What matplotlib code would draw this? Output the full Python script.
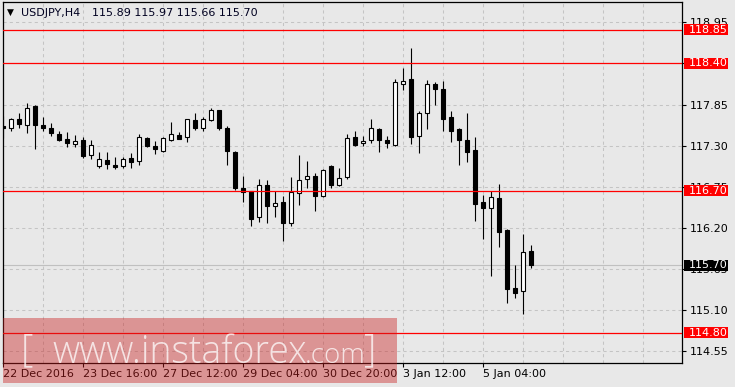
import matplotlib
matplotlib.use("Agg")
import matplotlib.pyplot as plt
from matplotlib.patches import Rectangle
from matplotlib.transforms import blended_transform_factory
import numpy as np

plt.rcParams['font.family'] = ['DejaVu Sans']

symbol = "USDJPY,H4"
opens = [117.56, 117.53, 117.65, 117.58, 117.83, 117.58, 117.53, 117.46, 117.39, 117.32,
         117.38, 117.17, 117.03, 117.11, 117.04, 117.03, 117.14, 117.09, 117.40, 117.30,
         117.23, 117.38, 117.44, 117.41, 117.64, 117.53, 117.64, 117.77, 117.53, 117.22,
         116.73, 116.70, 116.34, 116.78, 116.49, 116.54, 116.26, 116.66, 116.85, 116.89,
         116.62, 117.03, 116.78, 116.88, 117.42, 117.33, 117.37, 117.52, 117.38, 117.31,
         118.13, 118.19, 117.43, 117.73, 118.12, 118.06, 117.68, 117.52, 117.38, 117.24,
         116.55, 116.47, 116.60, 116.17, 115.40, 115.35, 115.89]
highs = [117.70, 117.67, 117.74, 117.87, 117.84, 117.68, 117.60, 117.49, 117.48, 117.44,
         117.41, 117.37, 117.22, 117.22, 117.15, 117.15, 117.20, 117.46, 117.42, 117.36,
         117.42, 117.62, 117.48, 117.66, 117.74, 117.68, 117.80, 117.78, 117.56, 117.23,
         116.89, 116.70, 116.86, 116.84, 116.70, 116.62, 116.88, 117.18, 117.09, 116.94,
         116.99, 117.04, 117.00, 117.46, 117.50, 117.43, 117.66, 117.53, 117.43, 118.19,
         118.34, 118.61, 117.76, 118.18, 118.15, 118.16, 117.76, 117.54, 117.74, 117.42,
         116.64, 116.69, 116.79, 116.18, 115.70, 116.12, 115.97]
lows = [117.40, 117.49, 117.53, 117.47, 117.25, 117.50, 117.43, 117.36, 117.28, 117.28,
        117.13, 117.12, 117.00, 116.99, 116.99, 117.00, 117.00, 117.04, 117.28, 117.19,
        117.21, 117.36, 117.39, 117.35, 117.51, 117.49, 117.63, 117.51, 117.04, 116.71,
        116.54, 116.22, 116.28, 116.26, 116.34, 116.03, 116.22, 116.50, 116.73, 116.42,
        116.61, 116.74, 116.76, 116.85, 117.29, 117.30, 117.34, 117.21, 117.27, 117.30,
        118.04, 117.32, 117.20, 117.52, 117.84, 117.50, 117.35, 117.04, 117.08, 116.29,
        116.05, 115.56, 115.94, 115.20, 115.26, 115.05, 115.66]
closes = [117.53, 117.65, 117.59, 117.81, 117.57, 117.53, 117.47, 117.37, 117.33, 117.36,
          117.16, 117.31, 117.12, 117.05, 117.01, 117.12, 117.08, 117.41, 117.29, 117.25,
          117.40, 117.45, 117.39, 117.65, 117.53, 117.65, 117.77, 117.53, 117.23, 116.74,
          116.68, 116.32, 116.78, 116.49, 116.53, 116.27, 116.68, 116.84, 116.90, 116.62,
          116.97, 116.78, 116.87, 117.40, 117.31, 117.36, 117.53, 117.37, 117.33, 118.15,
          118.17, 117.42, 117.74, 118.12, 118.06, 117.66, 117.50, 117.38, 117.22, 116.52,
          116.46, 116.61, 116.15, 115.38, 115.33, 115.88, 115.70]
time_labels = ["22 Dec 2016", "23 Dec 16:00", "27 Dec 12:00", "29 Dec 04:00",
               "30 Dec 20:00", "3 Jan 12:00", "5 Jan 04:00"]
time_label_idx = [0, 10, 20, 30, 40, 50, 60]
y_ticks = [118.95, 118.40, 117.85, 117.30, 116.75, 116.20, 115.65, 115.10, 114.55]
red_levels = [118.85, 118.40, 116.70, 114.80]
current_price = 115.70
watermark = "www.instaforex"
watermark_tail = ".com"

W, H = 735, 387
BG = '#E8E8E8'
fig = plt.figure(figsize=(W / 100, H / 100), dpi=100, facecolor=BG)
ax = fig.add_axes([3 / W, (H - 363) / H, (682 - 3) / W, (363 - 2) / H])
ax.set_facecolor(BG)
ax.set_xlim(-0.0375, 84.84)
ax.set_ylim(114.393, 119.221)

for s in ax.spines.values():
    s.set_color('black')
    s.set_linewidth(0.9)

# grid
grid_kw = dict(color='#C4C4C4', linewidth=0.75, linestyle=(0, (3, 3)), zorder=0)
for xv in range(5, 85, 5):
    ax.axvline(xv, **grid_kw)
for yv in y_ticks:
    ax.axhline(yv, **grid_kw)

# current price line
ax.axhline(current_price, color='#C0C0C0', linewidth=0.8, zorder=1)

# candles
x = np.arange(len(opens))
o = np.array(opens); c = np.array(closes)
ax.vlines(x, lows, highs, color='black', linewidth=0.8, zorder=2)
bottoms = np.minimum(o, c)
heights = np.maximum(np.abs(c - o), 0.012)
fills = ['white' if cc > oo else 'black' for oo, cc in zip(o, c)]
ax.bar(x, heights, bottom=bottoms, width=0.5, color=fills, edgecolor='black',
       linewidth=0.8, zorder=3)

# red levels
for lv in red_levels:
    ax.axhline(lv, color='#FF0000', linewidth=0.9, zorder=4)

# y axis on right (a label hidden exactly under a level box is left out)
ax.yaxis.tick_right()
ax.set_yticks(y_ticks)
ax.set_yticklabels(["" if any(abs(v - lv) < 1e-9 for lv in red_levels) else f"{v:.2f}"
                    for v in y_ticks])
ax.tick_params(axis='y', direction='out', length=3, width=0.8, pad=2.5,
               labelsize=8, colors='black')

# x axis
ax.set_xticks(time_label_idx)
ax.set_xticklabels(time_labels)
ax.tick_params(axis='x', direction='out', length=3, width=0.8, pad=1.5,
               labelsize=8, colors='black')
for lab in ax.get_xticklabels():
    lab.set_horizontalalignment('left')

# level boxes
tr = blended_transform_factory(ax.transAxes, ax.transData)
bx0 = (684 - 3) / 679
bw = 44 / 679
bh = 11.5 / 74.77
tx = (688.5 - 3) / 679
for lv in red_levels:
    ax.add_patch(Rectangle((bx0, lv - bh / 2), bw, bh, transform=tr, facecolor='#FF0000',
                           edgecolor='none', clip_on=False, zorder=6))
    ax.text(tx, lv, f"{lv:.2f}", transform=tr, color='white', fontsize=8,
            va='center', ha='left', clip_on=False, zorder=7)
ax.add_patch(Rectangle((bx0, current_price - bh / 2), bw, bh, transform=tr,
                       facecolor='black', edgecolor='none', clip_on=False, zorder=6))
ax.text(tx, current_price, f"{current_price:.2f}", transform=tr, color='white',
        fontsize=8, va='center', ha='left', clip_on=False, zorder=7)

# header
fig.text(7 / W, 1 - 12.5 / H, "\u25BC", fontsize=6.5, color='black', va='center', ha='left')
fig.text(21 / W, 1 - 12.5 / H, symbol, fontsize=8, color='#000020', va='center', ha='left')
fig.text(92 / W, 1 - 12.5 / H,
         f"{opens[-1]:.2f} {highs[-1]:.2f} {lows[-1]:.2f} {closes[-1]:.2f}",
         fontsize=8, color='#000020', va='center', ha='left')

# watermark
wm = Rectangle((3 / W, (H - 383.3) / H), 394 / W, 65.6 / H, transform=fig.transFigure,
               facecolor=(202 / 255, 30 / 255, 30 / 255), alpha=0.41, edgecolor='none',
               zorder=10)
fig.add_artist(wm)
wkw = dict(color='white', alpha=0.75, zorder=11, va='baseline', ha='left',
           family='Open Sans', fontweight='light')
fig.text(21 / W, 1 - 361 / H, "[", fontsize=28, **wkw)
fig.text(52 / W, 1 - 363 / H, watermark, fontsize=27, **wkw)
fig.text(305 / W, 1 - 363 / H, watermark_tail, fontsize=20, **wkw)
fig.text(364 / W, 1 - 361 / H, "]", fontsize=28, **wkw)

fig.savefig("out.png", dpi=100, facecolor=BG)
